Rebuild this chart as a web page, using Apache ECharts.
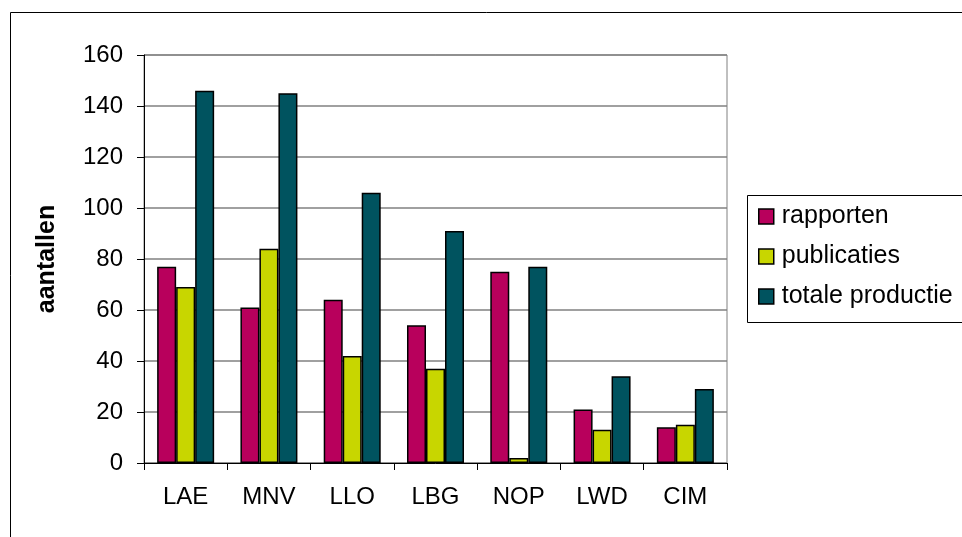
<!DOCTYPE html>
<html>
<head>
<meta charset="utf-8">
<script src="https://cdn.jsdelivr.net/npm/echarts@6/dist/echarts.min.js"></script>
<style>
html,body{margin:0;padding:0;background:#fff;}
#chart{width:962px;height:537px;}
</style>
</head>
<body>
<div id="chart"></div>
<script>
const categories = ['LAE','MNV','LLO','LBG','NOP','LWD','CIM'];
const rapporten = [77, 61, 64, 54, 75, 21, 14];
const publicaties = [69, 84, 42, 37, 2, 13, 15];
const totaleProductie = [146, 145, 106, 91, 77, 34, 29];
const yTicks = [0, 20, 40, 60, 80, 100, 120, 140, 160];
const seriesNames = ['rapporten','publicaties','totale productie'];
const colors = ['#b8005c','#c8d600','#00535f'];

const FONT = 'Liberation Sans, Arial, sans-serif';
const chart = echarts.init(document.getElementById('chart'), null, {renderer:'canvas'});
const mk = (name, data, color) => ({
  name, type:'bar', data, barWidth:19, barGap:'0%', barCategoryGap:'31%',
  itemStyle:{color, borderColor:'#000', borderWidth:1.5},
  emphasis:{disabled:true}, animation:false
});
chart.setOption({
  animation:false,
  textStyle:{fontFamily:FONT},
  grid:{left:144, right:235, top:55, bottom:74, show:true, borderColor:'#808080', borderWidth:1, backgroundColor:'transparent'},
  xAxis:{
    type:'category', data:categories,
    axisLine:{lineStyle:{color:'#000', width:1}},
    axisTick:{show:true, length:7, lineStyle:{color:'#000'}},
    axisLabel:{color:'#000', fontSize:24, fontFamily:FONT, margin:22}
  },
  yAxis:{
    type:'value', min:yTicks[0], max:yTicks[yTicks.length-1], interval:20,
    name:'aantallen', nameLocation:'middle', nameRotate:90, nameGap:84,
    nameTextStyle:{color:'#000', fontSize:25, fontWeight:'bold', fontFamily:FONT},
    axisLine:{show:true, lineStyle:{color:'#000', width:1}},
    axisTick:{show:true, length:7, lineStyle:{color:'#000'}},
    axisLabel:{color:'#000', fontSize:24, fontFamily:FONT, margin:21},
    splitLine:{show:true, lineStyle:{color:'#808080', width:1.5}}
  },
  legend:{
    orient:'vertical', left:753, top:199, itemWidth:15, itemHeight:15, itemGap:15,
    icon:'rect',
    itemStyle:{borderColor:'#000', borderWidth:1.5},
    textStyle:{color:'#000', fontSize:25, fontFamily:FONT, padding:[0,0,0,3]},
    data:seriesNames
  },
  graphic:[
    {type:'rect', shape:{x:10.5, y:12.5, width:1000, height:600}, style:{fill:'none', stroke:'#000', lineWidth:1}, silent:true, z:-1},
    {type:'rect', shape:{x:747.5, y:195.5, width:300, height:127}, style:{fill:'none', stroke:'#000', lineWidth:1}, silent:true}
  ],
  series:[
    mk(seriesNames[0], rapporten, colors[0]),
    mk(seriesNames[1], publicaties, colors[1]),
    mk(seriesNames[2], totaleProductie, colors[2])
  ]
});
</script>
</body>
</html>
